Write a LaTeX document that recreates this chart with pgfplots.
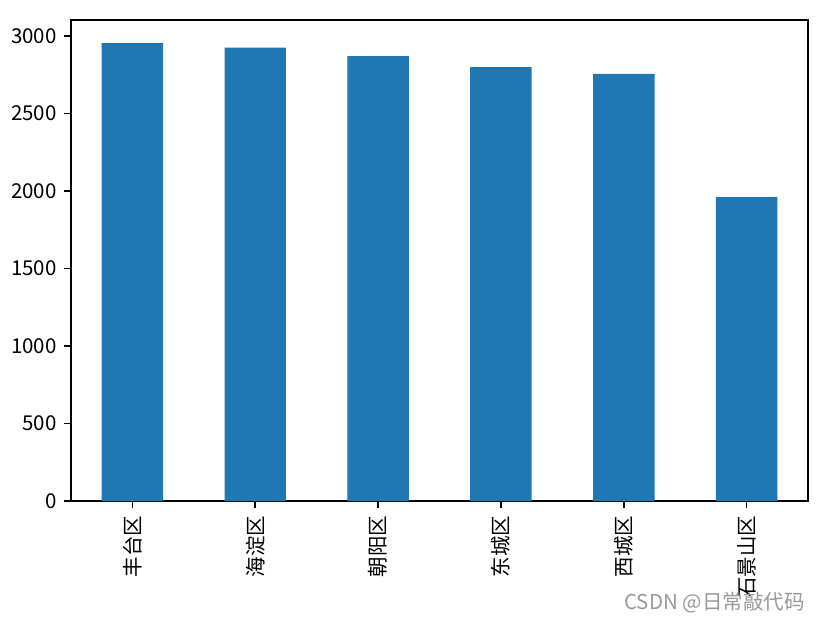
\documentclass[border=0pt]{standalone}
\usepackage{pgfplots}
\pgfplotsset{compat=1.18}
\usepackage{fontspec}
\setmainfont{Noto Sans CJK SC}
\definecolor{mplblue}{HTML}{1F77B4}
\begin{document}
\begin{tikzpicture}
\begin{axis}[
  width=359.5pt, height=234.6pt, scale only axis,
  xmin=-0.5, xmax=5.5, ymin=0, ymax=3101,
  enlargelimits=false,
  xtick={0,1,2,3,4,5},
  xticklabels={丰台区,海淀区,朝阳区,东城区,西城区,石景山区},
  x tick label style={rotate=90, anchor=east, font=\fontsize{10}{12}\selectfont},
  y tick label style={font=\fontsize{10}{12}\selectfont},
  ytick={0,500,1000,1500,2000,2500,3000},
  tick align=outside, major tick length=3.5pt,
  tick pos=left,
  tick style={black, line width=0.8pt},
  axis line style={black, line width=0.8pt},
  /pgf/number format/assume math mode=true,
  scaled y ticks=false,
  yticklabel style={/pgf/number format/1000 sep=},
  ybar, bar width=0.5,
]
\addplot[fill=mplblue, draw=none] coordinates {(0,2953) (1,2924) (2,2869) (3,2798) (4,2754) (5,1959)};
\end{axis}
\node[anchor=south east, inner sep=0pt, text=black!40, font=\fontsize{10}{12}\selectfont] at ([shift={(-1.5pt,-54.6pt)}]current axis.south east) {CSDN @日常敲代码};
\pgfresetboundingbox
\path ([shift={(-34.6pt,-58.5pt)}]current axis.south west) rectangle ([shift={(6.3pt,9.8pt)}]current axis.north east);
\end{tikzpicture}
\end{document}
